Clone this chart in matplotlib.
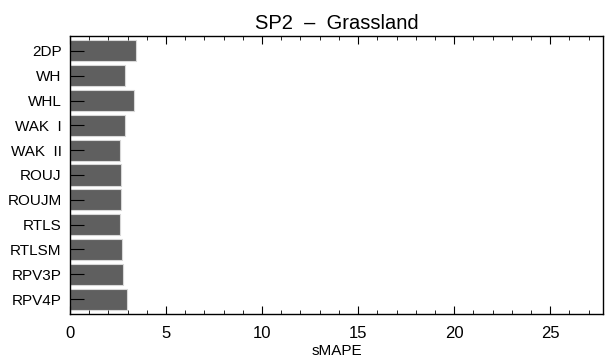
import matplotlib
matplotlib.use("Agg")
import matplotlib.pyplot as plt
import numpy as np
from matplotlib.ticker import MultipleLocator

plt.rcParams["font.family"] = ["Liberation Sans", "DejaVu Sans"]

# data
models = ["2DP", "WH", "WHL", "WAK  I", "WAK  II", "ROUJ", "ROUJM",
          "RTLS", "RTLSM", "RPV3P", "RPV4P"]
smape = [3.42, 2.86, 3.33, 2.86, 2.62, 2.66, 2.67, 2.62, 2.73, 2.74, 2.99]

fig = plt.figure(figsize=(6.06, 3.62), dpi=100)
ax = fig.add_axes([0.1155, 0.1326, 0.8795, 0.768])

y = np.arange(len(models))
ax.barh(y, smape, height=0.85, color="#5f5f5f", edgecolor="#d8d8d8",
        linewidth=0.8)

ax.set_xlim(0, 27.75)
ax.set_ylim(len(models) - 0.4, -0.6)
ax.set_yticks(y)
ax.set_yticklabels(models, fontsize=11)
ax.xaxis.set_major_locator(MultipleLocator(5))
ax.xaxis.set_minor_locator(MultipleLocator(1))
ax.tick_params(axis="x", which="major", direction="in", length=6,
               top=True, labelsize=12, pad=9)
ax.tick_params(axis="x", which="minor", direction="in", length=3, top=True)
ax.tick_params(axis="y", which="major", direction="in", length=10,
               right=False, pad=6)
ax.set_xlabel("sMAPE", fontsize=11, labelpad=2)
ax.set_title("SP2  \u2013  Grassland", fontsize=14.5, pad=5)
for s in ax.spines.values():
    s.set_linewidth(1.0)

fig.savefig("out.png", dpi=100)
